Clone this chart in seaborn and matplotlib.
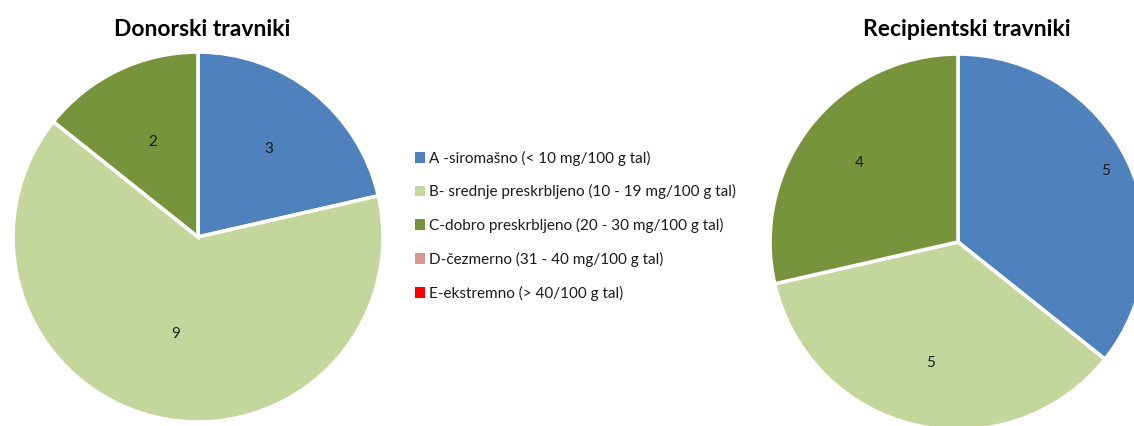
import numpy as np
import matplotlib
matplotlib.use("Agg")
import matplotlib.pyplot as plt
from matplotlib.patches import Patch
import seaborn as sns

# Phosphorus supply classes and counts of grassland sites per class
categories = [
    "A -siromašno (< 10 mg/100 g tal)",
    "B- srednje preskrbljeno (10 - 19 mg/100 g tal)",
    "C-dobro preskrbljeno (20 - 30 mg/100 g tal)",
    "D-čezmerno (31 - 40 mg/100 g tal)",
    "E-ekstremno (> 40/100 g tal)",
]
donor_counts = [3, 9, 2, 0, 0]
recipient_counts = [5, 5, 4, 0, 0]
titles = ["Donorski travniki", "Recipientski travniki"]

sns.set_theme(style="white")
plt.rcParams["font.family"] = ["Lato", "DejaVu Sans"]
palette = sns.color_palette(["#4F81BD", "#C3D69B", "#77933C", "#D99694", "#FF0000"])

W, H = 1134, 426
fig = plt.figure(figsize=(W / 100, H / 100), dpi=100)
fig.patch.set_facecolor("white")


def pie_axes(cx, cy, r):
    # square axes whose unit circle has centre (cx, cy) and radius r in pixels
    return fig.add_axes([(cx - r) / W, (H - cy - r) / H, 2 * r / W, 2 * r / H])


def draw_pie(ax, counts, label_dist):
    vals = [v for v in counts if v > 0]
    cols = [palette[i] for i, v in enumerate(counts) if v > 0]
    wedges, _ = ax.pie(vals, colors=cols, startangle=90, counterclock=False,
                       radius=1.0,
                       wedgeprops=dict(edgecolor="white", linewidth=2.6))
    for w, v, d in zip(wedges, vals, label_dist):
        mid = np.deg2rad((w.theta1 + w.theta2) / 2)
        ax.text(d * np.cos(mid), d * np.sin(mid), str(v), ha="center",
                va="center", fontsize=11, color="#1a1a1a")
    ax.set_xlim(-1, 1)
    ax.set_ylim(-1, 1)
    ax.set_aspect("equal")
    ax.axis("off")
    for p in ax.patches:
        p.set_clip_on(False)


ax1 = pie_axes(198, 237, 185)
draw_pie(ax1, donor_counts, [0.61, 0.54, 0.57])
ax2 = pie_axes(958, 242, 188)
draw_pie(ax2, recipient_counts, [0.87, 0.66, 0.67])

fig.text(202 / W, 1 - 30 / H, titles[0], ha="center", va="center",
         fontsize=16.5, fontweight="bold", color="black")
fig.text(967 / W, 1 - 30 / H, titles[1], ha="center", va="center",
         fontsize=16.5, fontweight="bold", color="black")

handles = [Patch(facecolor=palette[i], edgecolor="none") for i in range(len(categories))]
fig.legend(handles, categories, loc="upper left",
           bbox_to_anchor=(407 / W, 1 - 143 / H), frameon=False,
           fontsize=11, handlelength=0.7, handleheight=0.7,
           handletextpad=0.25, labelspacing=1.22, borderpad=0,
           labelcolor="#1a1a1a")

fig.savefig("out.png", dpi=100, facecolor="white")
